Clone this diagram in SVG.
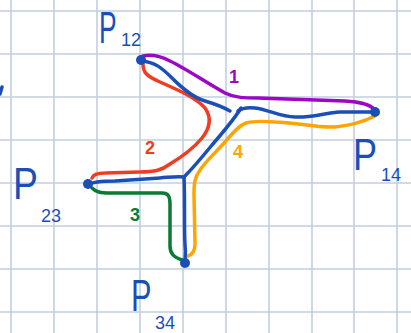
<svg xmlns="http://www.w3.org/2000/svg" width="411" height="333" viewBox="0 0 411 333">
<style>
.grid line{stroke:#c3cee0;stroke-width:1.6}
.c{fill:none;stroke-width:3.5;stroke-linecap:round;stroke-linejoin:round}
.b{stroke:#1b4fb8}.pu{stroke:#9a08c4}.r{stroke:#f03c22}.g{stroke:#0b7a35}.o{stroke:#ffa400}
.dot{fill:#1b4fb8}
.lbl{font-family:"Liberation Sans",Arial,sans-serif;fill:#1b4fb8}
.P{font-size:44px}.sub{font-size:18px}
.num{font-family:"Liberation Sans",Arial,sans-serif;font-size:18px;font-weight:bold}
</style>
<rect width="411" height="333" fill="#fff"/>
<g class="grid">
<line x1="11" y1="0" x2="11" y2="333"/><line x1="54" y1="0" x2="54" y2="333"/><line x1="97" y1="0" x2="97" y2="333"/><line x1="140" y1="0" x2="140" y2="333"/><line x1="183" y1="0" x2="183" y2="333"/><line x1="226" y1="0" x2="226" y2="333"/><line x1="269" y1="0" x2="269" y2="333"/><line x1="312" y1="0" x2="312" y2="333"/><line x1="354" y1="0" x2="354" y2="333"/><line x1="397" y1="0" x2="397" y2="333"/>
<line x1="0" y1="11" x2="411" y2="11"/><line x1="0" y1="54" x2="411" y2="54"/><line x1="0" y1="97" x2="411" y2="97"/><line x1="0" y1="140" x2="411" y2="140"/><line x1="0" y1="183" x2="411" y2="183"/><line x1="0" y1="226" x2="411" y2="226"/><line x1="0" y1="269" x2="411" y2="269"/><line x1="0" y1="312" x2="411" y2="312"/>
</g>
<g id="connectors">
<path class="c pu" d="M143,56 C152,54 160,56 170,61 C185,68 205,82 225,93 C235,98 245,98 258,98 L345,101 C360,102 370,104 375,110"/>
<path class="c r" d="M143,64 C143,72 146,76 160,82 C178,90 195,97 205,108 C212,118 210,128 202,138 C192,150 180,158 170,164 C162,170 155,172 140,172 L105,173 C97,173 93,175 92,178"/>
<path class="c g" d="M92,188 C96,192 100,193 110,193 L162,193 C168,193 170,196 170,204 L170,246 C170,254 174,257 182,260"/>
<path class="c o" d="M375,116 C365,121 355,125 335,127 C315,128 295,122 275,122 C262,121 252,121 246,123 C238,126 232,134 225,142 C215,153 205,162 200,170 C194,178 194,185 194,195 L195,244 C195,250 193,254 188,256"/>
<path class="c b" d="M141,61 C155,62 162,68 172,78 C182,88 192,97 205,101 C215,104 223,107 230,111"/>
<path class="c b" d="M238,111 C242,108 246,107 255,108 C270,110 280,117 295,117 C310,118 325,113 340,112 L372,112"/>
<path class="c b" d="M241,108 C235,118 225,130 212,145 C203,156 193,168 184,177"/>
<path class="c b" d="M87,185 C92,182 100,181 115,181 L160,178 C172,177 178,176 184,177"/>
<path class="c b" d="M184,177 C185,200 184,225 185,245 C186,252 185,258 185,262"/>
<path class="c b" d="M2,87 L0,94"/>
</g>
<g id="P12">
<circle class="dot" cx="141" cy="60" r="5"/>
<text class="lbl P" transform="translate(99,43) scale(0.6,1)">P</text>
<text class="lbl sub" x="121" y="46">12</text>
</g>
<g id="P14">
<circle class="dot" cx="375" cy="112" r="5"/>
<text class="lbl P" transform="translate(353,170) scale(0.82,1)">P</text>
<text class="lbl sub" x="381" y="181">14</text>
</g>
<g id="P23">
<circle class="dot" cx="88" cy="184" r="5"/>
<text class="lbl P" transform="translate(13,199) scale(0.85,1)">P</text>
<text class="lbl sub" x="41" y="222">23</text>
</g>
<g id="P34">
<circle class="dot" cx="185" cy="263" r="5"/>
<text class="lbl P" transform="translate(131,311) scale(0.7,1)">P</text>
<text class="lbl sub" x="155" y="329">34</text>
</g>
<g id="labels">
<text class="num" x="229" y="83" fill="#9a08c4">1</text>
<text class="num" x="145" y="154" fill="#f03c22">2</text>
<text class="num" x="130" y="221" fill="#0b7a35">3</text>
<text class="num" x="233" y="158" fill="#ffa400">4</text>
</g>
</svg>
